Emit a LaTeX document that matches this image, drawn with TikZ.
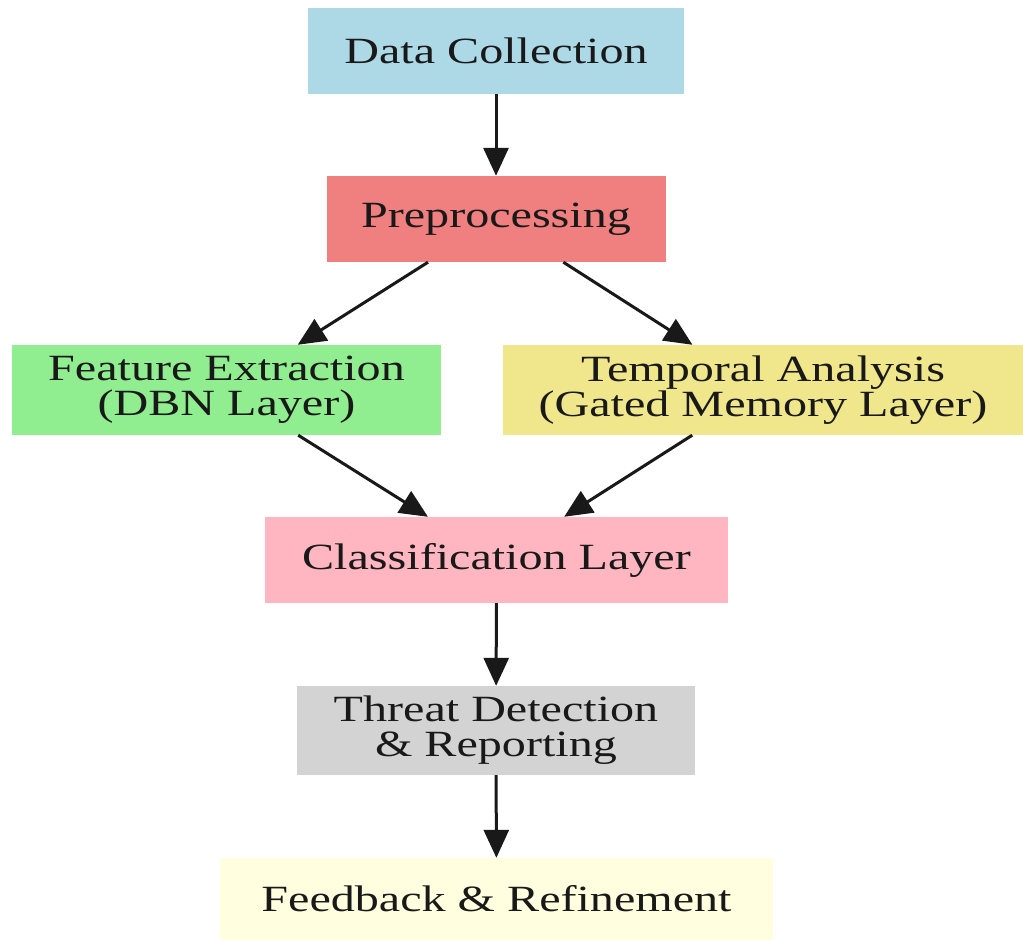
\documentclass[tikz,border=0pt]{standalone}
\usepackage{fontspec}
\setmainfont[FakeStretch=1.3]{Liberation Serif}
\usetikzlibrary{arrows.meta}
\definecolor{cDC}{HTML}{ADD8E6}
\definecolor{cPre}{HTML}{F08080}
\definecolor{cFeat}{HTML}{90EE90}
\definecolor{cTemp}{HTML}{F0E68C}
\definecolor{cCls}{HTML}{FFB6C1}
\definecolor{cThr}{HTML}{D3D3D3}
\definecolor{cFb}{HTML}{FFFFE0}
\begin{document}
\begin{tikzpicture}[x=1pt,y=-1pt,
  box/.style={rectangle, inner sep=0pt, align=center, text=black!90,
    font=\fontsize{37}{35}\selectfont},
  edge/.style={line width=3pt, draw=black!90, -{Triangle[length=28pt,width=25pt]}}]
\useasboundingbox (0,0) rectangle (1023,941);
\node[box, fill=cDC, minimum width=376pt, minimum height=86pt] (dc) at (496,51) {Data Collection};
\node[box, fill=cPre, minimum width=339pt, minimum height=86pt] (pre) at (496,219) {Preprocessing};
\node[box, fill=cFeat, minimum width=429pt, minimum height=90pt] (feat) at (226.5,390) {Feature Extraction\\(DBN Layer)};
\node[box, fill=cTemp, minimum width=520pt, minimum height=90pt] (temp) at (763,390) {Temporal Analysis\\(Gated Memory Layer)};
\node[box, fill=cCls, minimum width=463pt, minimum height=86pt] (cls) at (496.5,560) {Classification Layer};
\node[box, fill=cThr, minimum width=398pt, minimum height=89pt] (thr) at (496,730.5) {Threat Detection\\\& Reporting};
\node[box, fill=cFb, minimum width=553pt, minimum height=82pt] (fb) at (496.5,899) {Feedback \& Refinement};
\draw[edge] (dc) -- (pre);
\draw[edge] (pre) -- (feat);
\draw[edge] (pre) -- (temp);
\draw[edge] (feat) -- (cls);
\draw[edge] (temp) -- (cls);
\draw[edge] (cls) -- (thr);
\draw[edge] (thr) -- (fb);
\end{tikzpicture}
\end{document}
